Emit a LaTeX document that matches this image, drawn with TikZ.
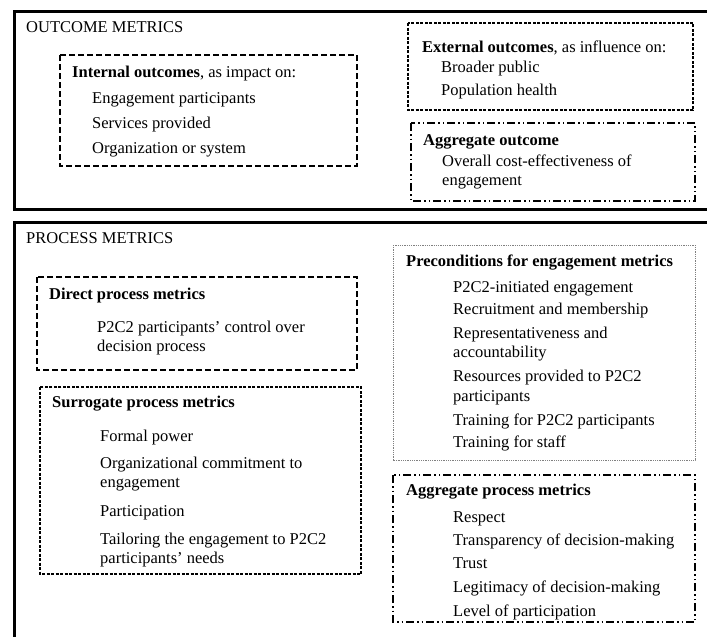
\documentclass[tikz,border=0pt]{standalone}
\usepackage{fontspec}
\setmainfont{Liberation Serif}
\usepackage{tikz}
\usetikzlibrary{positioning}

\begin{document}
\begin{tikzpicture}[x=1pt,y=-1pt,
	outer/.style={line width=2.5pt},
	longdash/.style={line width=1.2pt,dash pattern=on 6pt off 3pt},
	shortdash/.style={line width=1.2pt,dash pattern=on 3pt off 1.5pt},
	dashdotdot/.style={line width=1.2pt,dash pattern=on 8pt off 3pt on 1.5pt off 3pt on 1.5pt off 3pt},
	dotbox/.style={line width=0.7pt,gray,dash pattern=on 1pt off 0.8pt},
	item/.style={anchor=base west,inner sep=0pt,align=left,font=\fontsize{16.5}{19.5}\selectfont}]
			\useasboundingbox (0,0) rectangle (707,637);
			\clip (0,0) rectangle (707,637);
			\draw[outer] (14.5,11.5) rectangle (730,209.5);
			\draw[outer] (14.5,222.5) rectangle (730,680);
			\draw[longdash] (60,55) rectangle (357,166);
			\draw[shortdash] (408,23) rectangle (693,110);
			\draw[dashdotdot] (411,123) rectangle (695,201);
			\draw[longdash] (37,277) rectangle (357,370);
			\draw[shortdash] (40,387) rectangle (361,574);
			\draw[dotbox] (393,245) rectangle (695,460);
			\draw[dashdotdot] (393,475) rectangle (695,622);
			\node[item] (outtitle) at (26,32) {OUTCOME METRICS};
			\node[item] (inthead) at (72,77) {\textbf{Internal outcomes}, as impact on:};
			\node[item] (int1) at (92,103) {Engagement participants};
			\node[item] (int2) at (92,128) {Services provided};
			\node[item] (int3) at (92,153) {Organization or system};
			\node[item] (exthead) at (422,52) {\textbf{External outcomes}, as influence on:};
			\node[item] (ext1) at (441,72) {Broader public};
			\node[item] (ext2) at (441,95) {Population health};
			\node[item] (agohead) at (423,145) {\textbf{Aggregate outcome}};
			\node[item] (ago1) at (442,185.5) {Overall cost-effectiveness of\\engagement};
			\node[item] (proctitle) at (26,243) {PROCESS METRICS};
			\node[item] (dirhead) at (49,299) {\textbf{Direct process metrics}};
			\node[item] (dir1) at (97,351.5) {P2C2 participants' control over\\decision process};
			\node[item] (surhead) at (52,407) {\textbf{Surrogate process metrics}};
			\node[item] (sur1) at (100,441) {Formal power};
			\node[item] (sur2) at (100,487.5) {Organizational commitment to\\engagement};
			\node[item] (sur3) at (100,516) {Participation};
			\node[item] (sur4) at (100,563.5) {Tailoring the engagement to P2C2\\participants' needs};
			\node[item] (prehead) at (406,266) {\textbf{Preconditions for engagement metrics}};
			\node[item] (pre1) at (453,292) {P2C2-initiated engagement};
			\node[item] (pre2) at (453,314) {Recruitment and membership};
			\node[item] (pre3) at (453,357.5) {Representativeness and\\accountability};
			\node[item] (pre4) at (453,401) {Resources provided to P2C2\\participants};
			\node[item] (pre5) at (453,425) {Training for P2C2 participants};
			\node[item] (pre6) at (453,447) {Training for staff};
			\node[item] (agphead) at (406,495) {\textbf{Aggregate process metrics}};
			\node[item] (agp1) at (453,522) {Respect};
			\node[item] (agp2) at (453,545) {Transparency of decision-making};
			\node[item] (agp3) at (453,568) {Trust};
			\node[item] (agp4) at (453,592) {Legitimacy of decision-making};
			\node[item] (agp5) at (453,616) {Level of participation};
		\end{tikzpicture}
\end{document}
